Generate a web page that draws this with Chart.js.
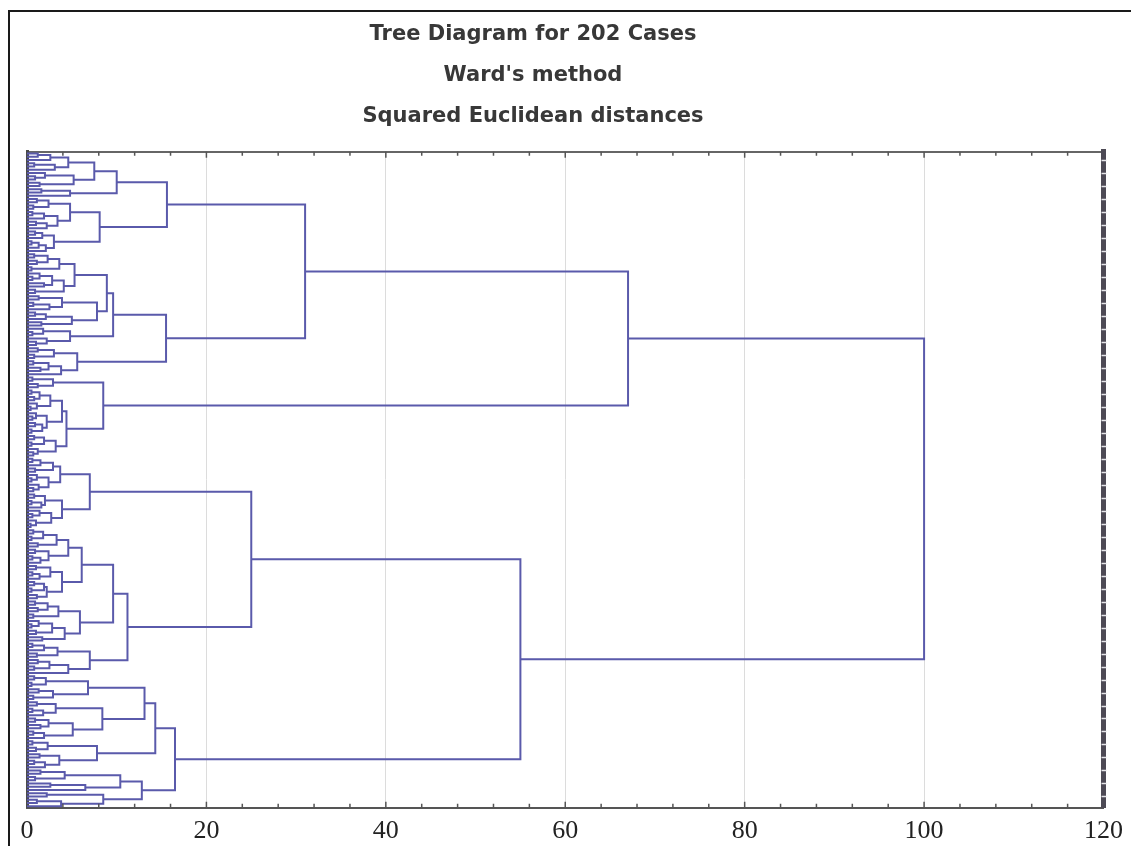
<!DOCTYPE html>
<html>
<head>
<meta charset="utf-8">
<title>Tree Diagram</title>
<script src="https://cdn.jsdelivr.net/npm/chart.js@4.4.1/dist/chart.umd.min.js"></script>
<style>
  html, body { margin: 0; padding: 0; background: #fff; overflow: hidden; }
  #frame {
    position: absolute; left: 8px; top: 10px;
    width: 1123px; height: 846px;
    border-left: 2px solid #1a1a1a; border-top: 2px solid #1a1a1a;
    box-sizing: border-box;
  }
  #wrap { position: relative; width: 1121px; height: 844px; }
</style>
</head>
<body>
<div id="frame"><div id="wrap"><canvas id="tree"></canvas></div></div>

<script>
// linkage heights between neighbouring cases (top to bottom)
var gapsA1a = [1.2, 2.6, 4.6, 0.8, 3.1, 7.5, 2.0, 0.9, 5.2, 1.4, 10.0, 1.6, 4.8,
               15.6,
               1.1, 2.4, 0.7, 4.8, 0.6, 1.9, 3.4, 1.0, 2.2, 8.1, 0.9, 1.7, 3.0, 0.5, 1.3, 2.1];
var gapsA1b = [0.8, 2.3, 1.1, 3.6, 0.5, 5.3, 1.4, 0.6, 2.8, 1.9, 4.1, 0.9, 8.9,
               1.3, 3.9, 0.7, 2.5, 7.8, 0.9, 2.1, 5.0, 1.6, 9.6, 1.8, 0.6, 4.8, 2.2, 1.0,
               15.5,
               1.2, 3.0, 0.8, 5.6, 0.7, 2.4, 1.5, 3.8];
var gapsA2  = [0.6, 2.9, 1.2, 8.5, 0.5, 1.4, 0.8, 2.6, 1.1, 0.4, 3.9,
               1.0, 0.6, 2.2, 0.9, 1.7, 0.5, 4.4, 0.8, 1.9, 0.5, 3.2, 1.2, 0.7];
var gapsB1a = [0.6, 1.5, 2.9, 0.9, 3.7, 1.1, 0.5, 2.4, 1.3, 0.7, 7.0,
               0.8, 2.0, 0.5, 1.6, 3.9, 1.4, 0.6, 2.7, 1.0, 0.4];
var gapsB1b = [0.7, 1.8, 0.5, 3.3, 1.2, 4.6, 0.9, 2.4, 0.6, 1.5, 6.1,
               1.0, 2.6, 0.6, 1.4, 3.9, 0.8, 1.9, 0.5, 2.2, 1.1, 9.6,
               0.9, 2.3, 1.2, 3.5, 0.7, 5.9, 1.3, 0.5, 2.8, 1.0, 4.2, 1.7,
               11.2,
               0.6, 1.9, 3.4, 1.1, 7.0, 1.2, 2.5, 0.8, 4.6];
var gapsB2  = [0.8, 2.1, 0.5, 6.8, 1.3, 2.9, 0.7, 13.1,
               1.1, 3.2, 0.6, 1.8, 8.4, 0.9, 2.4, 1.5, 5.1, 0.7, 1.9, 14.3,
               0.6, 2.3, 1.0, 7.8, 1.4, 3.6, 0.8, 2.0,
               16.5,
               1.5, 4.2, 0.9, 10.4, 2.6, 6.5, 12.8, 2.2, 8.5, 1.1, 3.8];
// big joins: A1a|A1b, A1|A2, A|B, B1a|B1b, B1|B2
var joinA1 = 31.0, joinA = 67.0, joinRoot = 100.0, joinB1 = 25.0, joinB = 55.0;

var titleLines = ["Tree Diagram for 202 Cases", "Ward's method", "Squared Euclidean distances"];
var xMin = 0, xMax = 120, xStep = 20, minorStep = 4;

var gaps = [].concat(gapsA1a, [joinA1], gapsA1b, [joinA], gapsA2, [joinRoot],
                     gapsB1a, [joinB1], gapsB1b, [joinB], gapsB2);
var nCases = gaps.length + 1;

// turn the ordered gap heights into bracket links
var links = [];
function build(lo, hi) {
  if (lo === hi) return { y: lo, h: 0 };
  var k = lo;
  for (var i = lo; i < hi; i++) if (gaps[i] > gaps[k]) k = i;
  var L = build(lo, k), R = build(k + 1, hi), h = gaps[k];
  links.push([{x: L.h, y: L.y}, {x: h, y: L.y}, {x: h, y: R.y}, {x: R.h, y: R.y}]);
  return { y: (L.y + R.y) / 2, h: h };
}
build(0, nCases - 1);

var datasets = links.map(function(pts) {
  return {
    data: pts, showLine: true, fill: false,
    borderColor: '#5a5aab', borderWidth: 2,
    pointRadius: 0, pointHoverRadius: 0,
    borderCapStyle: 'butt', borderJoinStyle: 'miter'
  };
});

var innerTicks = {
  id: 'innerTicks',
  afterDatasetsDraw: function(chart) {
    var ctx = chart.ctx, a = chart.chartArea, x = chart.scales.x, y = chart.scales.y;
    ctx.save();
    ctx.strokeStyle = '#555';
    ctx.lineWidth = 1.5;
    for (var v = xMin + minorStep; v < xMax; v += minorStep) {
      var px = x.getPixelForValue(v);
      var len = (v % xStep === 0) ? 6 : 4;
      ctx.beginPath();
      ctx.moveTo(px, a.bottom); ctx.lineTo(px, a.bottom - len);
      ctx.moveTo(px, a.top); ctx.lineTo(px, a.top + len);
      ctx.stroke();
    }
    // case ticks on the right edge show as light breaks in the thick border
    ctx.strokeStyle = '#e6e6ea';
    ctx.lineWidth = 1.5;
    for (var c = 2; c < nCases - 1; c += 4) {
      var py = Math.round(y.getPixelForValue(c)) + 0.5;
      ctx.beginPath();
      ctx.moveTo(a.right - 2, py); ctx.lineTo(a.right + 3, py);
      ctx.stroke();
    }
    ctx.restore();
  }
};

var shiftTitle = {
  id: 'shiftTitle',
  afterLayout: function(chart) {
    var t = chart.titleBlock;
    if (!t) return;
    var d = 523 - (t.left + t.right) / 2;
    t.left += d; t.right += d;
  }
};

new Chart(document.getElementById('tree'), {
  type: 'scatter',
  data: { datasets: datasets },
  plugins: [innerTicks, shiftTitle],
  options: {
    responsive: true,
    maintainAspectRatio: false,
    animation: false,
    events: [],
    layout: { padding: { left: 17, right: 26, top: 0, bottom: 1 } },
    plugins: {
      legend: { display: false },
      tooltip: { enabled: false },
      title: {
        display: true,
        text: titleLines,
        color: '#383838',
        font: { family: 'DejaVu Sans', size: 21, weight: 'bold', lineHeight: 1.95 },
        padding: { top: 2, bottom: 15 }
      }
    },
    scales: {
      x: {
        type: 'linear', position: 'bottom',
        min: xMin, max: xMax,
        ticks: {
          stepSize: xStep, color: '#222', padding: 8,
          font: { family: 'Liberation Serif', size: 26 }
        },
        grid: {
          drawTicks: false, lineWidth: 1,
          color: function(c) {
            var v = c.tick && c.tick.value;
            return (v === xMin || v === xMax) ? 'rgba(0,0,0,0)' : '#dcdcdc';
          }
        },
        border: { display: true, color: '#555', width: 2 }
      },
      x2: {
        type: 'linear', position: 'top',
        min: xMin, max: xMax,
        ticks: { display: false },
        grid: { display: false, drawTicks: false },
        border: { display: true, color: '#666', width: 2 }
      },
      y: {
        type: 'linear', position: 'left',
        min: -0.5, max: nCases - 0.5, reverse: true,
        ticks: { display: false },
        grid: { display: false, drawTicks: false },
        border: { display: true, color: '#4a4a4a', width: 3 }
      },
      y2: {
        type: 'linear', position: 'right',
        min: -0.5, max: nCases - 0.5, reverse: true,
        ticks: { display: false },
        grid: { display: false, drawTicks: false },
        border: { display: true, color: '#4d4a55', width: 5 }
      }
    }
  }
});
</script>
</body>
</html>
